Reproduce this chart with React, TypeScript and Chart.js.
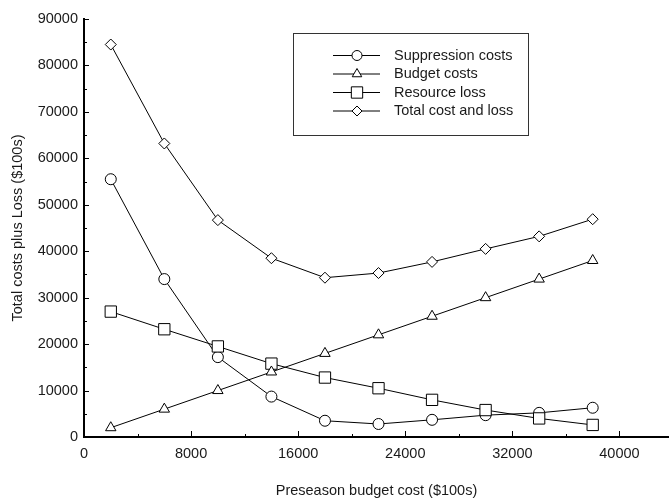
import React, { useEffect, useRef } from "react";
import { Chart, registerables } from "chart.js";

Chart.register(...registerables);

const xValues = [2000, 6000, 10000, 14000, 18000, 22000, 26000, 30000, 34000, 38000];
const suppression = [55500, 34000, 17200, 8700, 3500, 2800, 3700, 4700, 5200, 6300];
const budget = [2000, 6000, 10000, 14000, 18000, 22000, 26000, 30000, 34000, 38000];
const resource = [27000, 23200, 19500, 15800, 12800, 10500, 8000, 5800, 4000, 2600];
const total = [84500, 63200, 46700, 38500, 34300, 35300, 37700, 40500, 43200, 46900];
const xTicks = [0, 8000, 16000, 24000, 32000, 40000];
const yTicks = [0, 10000, 20000, 30000, 40000, 50000, 60000, 70000, 80000, 90000];
const seriesNames = ["Suppression costs", "Budget costs", "Resource loss", "Total cost and loss"];
const xTitle = "Preseason budget cost ($100s)";
const yTitle = "Total costs plus Loss ($100s)";

const FONT = "'Liberation Sans', Arial, sans-serif";
const FS = 14.5;

function drawMarker(ctx: CanvasRenderingContext2D, style: string, x: number, y: number, r: number) {
  ctx.beginPath();
  if (style === "circle") {
    ctx.arc(x, y, r, 0, Math.PI * 2);
  } else if (style === "triangle") {
    for (let i = 0; i < 3; i++) {
      const a = (i * 2 * Math.PI) / 3;
      const px = x + Math.sin(a) * r;
      const py = y - Math.cos(a) * r;
      if (i === 0) ctx.moveTo(px, py);
      else ctx.lineTo(px, py);
    }
    ctx.closePath();
  } else if (style === "rect") {
    const s = r * Math.SQRT1_2;
    ctx.rect(x - s, y - s, 2 * s, 2 * s);
  } else {
    ctx.moveTo(x - r, y);
    ctx.lineTo(x, y - r);
    ctx.lineTo(x + r, y);
    ctx.lineTo(x, y + r);
    ctx.closePath();
  }
  ctx.fillStyle = "#fff";
  ctx.fill();
  ctx.strokeStyle = "#000";
  ctx.lineWidth = 1;
  ctx.stroke();
}

const styles = ["circle", "triangle", "rect", "rectRot"];
const radii = [5.5, 6, 8, 5.5];
const legendRadii = [5, 5.5, 8, 5];
const drawOrder = [3, 1, 2, 0];

const decorPlugin = {
  id: "decor",
  afterDraw(chart: any) {
    const ctx: CanvasRenderingContext2D = chart.ctx;
    const { left, right, top, bottom } = chart.chartArea;
    const xs = chart.scales.x;
    const ys = chart.scales.y;
    ctx.save();
    ctx.strokeStyle = "#000";
    ctx.lineWidth = 1;
    for (let v = 0; v <= xs.max; v += 4000) {
      const px = Math.round(xs.getPixelForValue(v)) + 0.5;
      if (px <= left + 1) continue;
      const len = v % 8000 === 0 ? 6 : 3;
      ctx.beginPath();
      ctx.moveTo(px, bottom);
      ctx.lineTo(px, bottom - len);
      ctx.stroke();
    }
    for (let v = 5000; v <= ys.max; v += 5000) {
      const py = Math.round(ys.getPixelForValue(v)) + 0.5;
      const len = v % 10000 === 0 ? 5 : 3;
      ctx.beginPath();
      ctx.moveTo(left, py);
      ctx.lineTo(left + len, py);
      ctx.stroke();
    }
    ctx.fillStyle = "#1a1a1a";
    ctx.font = `${FS}px ${FONT}`;
    ctx.textAlign = "center";
    ctx.textBaseline = "middle";
    ctx.fillText(xTitle, (left + right) / 2, 491);
    ctx.save();
    ctx.translate(18, (top + bottom) / 2);
    ctx.rotate(-Math.PI / 2);
    ctx.fillText(yTitle, 0, 0);
    ctx.restore();
    ctx.strokeStyle = "#333";
    ctx.lineWidth = 1;
    ctx.strokeRect(293.5, 33.5, 235, 102);
    const rows = [55, 73.5, 92, 110.5];
    for (let i = 0; i < 4; i++) {
      const y = rows[i];
      ctx.strokeStyle = "#000";
      ctx.beginPath();
      ctx.moveTo(333, y + 0.5);
      ctx.lineTo(380, y + 0.5);
      ctx.stroke();
      drawMarker(ctx, styles[i], 357, y + 0.5, legendRadii[i]);
      ctx.fillStyle = "#1a1a1a";
      ctx.textAlign = "left";
      ctx.textBaseline = "middle";
      ctx.fillText(seriesNames[i], 394, y + 0.5);
    }
    ctx.restore();
  },
};

const bgPlugin = {
  id: "bg",
  beforeDraw(chart: any) {
    const ctx = chart.ctx;
    ctx.save();
    ctx.fillStyle = "#fff";
    ctx.fillRect(0, 0, chart.width, chart.height);
    ctx.restore();
  },
};

export default function App() {
  const ref = useRef<HTMLCanvasElement>(null);
  useEffect(() => {
    if (!ref.current) return;
    const allSeries = [suppression, budget, resource, total];
    const chart = new Chart(ref.current, {
      type: "line",
      data: {
        datasets: allSeries.map((s, i) => ({
          label: seriesNames[i],
          data: xValues.map((x, j) => ({ x, y: s[j] })),
          order: drawOrder[i],
          borderColor: "#000",
          borderWidth: 1,
          backgroundColor: "#fff",
          pointStyle: styles[i] as any,
          pointRadius: radii[i],
          pointBorderWidth: 1,
          pointBorderColor: "#000",
          pointBackgroundColor: "#fff",
          tension: 0,
          fill: false,
        })),
      },
      options: {
        animation: false,
        responsive: false,
        layout: { autoPadding: false, padding: { top: 19, right: 0, left: 0, bottom: 0 } },
        plugins: { legend: { display: false }, tooltip: { enabled: false } },
        scales: {
          x: {
            type: "linear",
            min: 0,
            max: 43700,
            grid: { display: false, drawTicks: false },
            border: { display: true, color: "#000", width: 2 },
            ticks: {
              padding: 8,
              color: "#1a1a1a",
              font: { family: FONT, size: FS },
              maxRotation: 0,
              autoSkip: false,
              callback: (v: any) => String(v),
            },
            afterBuildTicks: (s: any) => {
              s.ticks = xTicks.map((v) => ({ value: v }));
            },
            afterFit: (s: any) => {
              s.height = 62;
              s.paddingLeft = 0;
              s.paddingRight = 0;
            },
          },
          y: {
            type: "linear",
            min: 0,
            max: 90000,
            grid: { display: false, drawTicks: false },
            border: { display: true, color: "#000", width: 2 },
            ticks: {
              padding: 6,
              color: "#1a1a1a",
              font: { family: FONT, size: FS },
              autoSkip: false,
              callback: (v: any) => String(v),
            },
            afterBuildTicks: (s: any) => {
              s.ticks = yTicks.map((v) => ({ value: v }));
            },
            afterFit: (s: any) => {
              s.width = 84;
              s.paddingTop = 0;
              s.paddingBottom = 0;
            },
          },
        },
      },
      plugins: [bgPlugin, decorPlugin],
    });
    return () => chart.destroy();
  }, []);
  return (
    <div style={{ position: "fixed", left: 0, top: 0, width: 669, height: 499, background: "#fff" }}>
      <canvas ref={ref} width={669} height={499} />
    </div>
  );
}
